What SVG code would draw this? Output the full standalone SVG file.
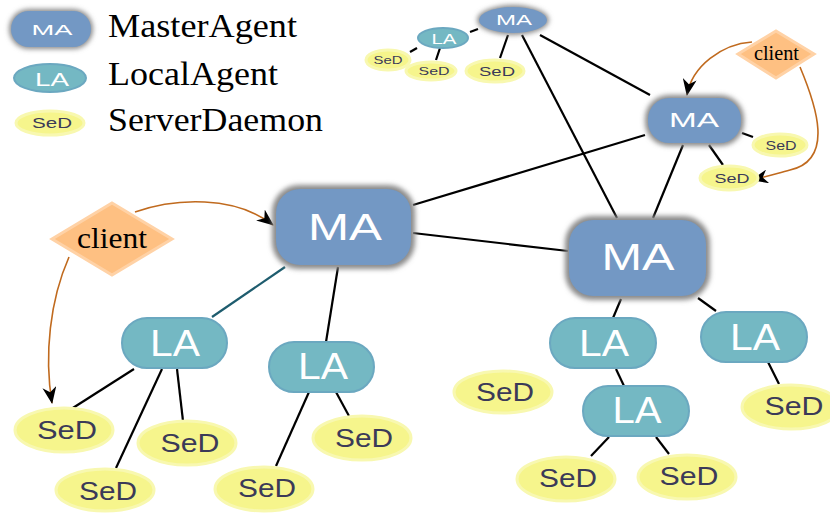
<svg xmlns="http://www.w3.org/2000/svg" width="830" height="513" viewBox="0 0 830 513">
<style>
.ma{fill:#7398C4;}
.mash{fill:#8a8a8a;filter:url(#blur);}
.la{fill:#74B8C3;stroke:#6BA8C0;stroke-width:2;}
.sed{fill:#F6F58C;stroke:#F8F8B0;stroke-width:3;}
.cl{fill:#FEC082;stroke:#FFD2A6;stroke-width:3;}
.tw{font-family:"Liberation Sans","DejaVu Sans",sans-serif;fill:#FFFFFF;text-anchor:middle;}
.ts{font-family:"Liberation Sans","DejaVu Sans",sans-serif;fill:#3B3A58;text-anchor:middle;}
.tl{font-family:"Liberation Serif","Times New Roman",serif;fill:#000;}
.e{stroke:#000;stroke-width:2.2;fill:none;}
.c{stroke:#C06A1E;stroke-width:1.6;fill:none;marker-end:url(#arr);}
</style>
<defs>
<filter id="blur" x="-20%" y="-20%" width="140%" height="140%"><feGaussianBlur stdDeviation="2.5"/></filter>
<marker id="arr" markerUnits="userSpaceOnUse" markerWidth="18" markerHeight="14" refX="16" refY="7" orient="auto"><path d="M0,0 L17,7 L0,14 L5,7 Z" fill="#000"/></marker>
</defs>
<rect width="830" height="513" fill="#fff"/>

<g id="legend">
<rect class="mash" x="9" y="9" width="84" height="40" rx="20"/>
<rect class="ma" x="11" y="11" width="80" height="36" rx="18"/>
<text class="tw" x="52" y="35" font-size="15" textLength="41" lengthAdjust="spacingAndGlyphs">MA</text>
<ellipse class="la" cx="50" cy="78" rx="36" ry="14"/>
<text class="tw" x="52" y="86" font-size="18" textLength="34" lengthAdjust="spacingAndGlyphs">LA</text>
<ellipse class="sed" cx="50" cy="123" rx="34" ry="12"/>
<text class="ts" x="52" y="128" font-size="14" textLength="40" lengthAdjust="spacingAndGlyphs">SeD</text>
<text class="tl" x="108" y="37" font-size="33" textLength="189" lengthAdjust="spacingAndGlyphs">MasterAgent</text>
<text class="tl" x="108" y="85" font-size="33" textLength="170" lengthAdjust="spacingAndGlyphs">LocalAgent</text>
<text class="tl" x="108" y="131" font-size="33" textLength="215" lengthAdjust="spacingAndGlyphs">ServerDaemon</text>
</g>

<g id="connectors">
<line class="e" x1="470" y1="32" x2="478" y2="29"/>
<line class="e" x1="410" y1="52" x2="417" y2="48"/>
<line class="e" x1="440" y1="48" x2="436" y2="60"/>
<line class="e" x1="508" y1="35" x2="500" y2="58"/>
<line class="e" x1="522" y1="35" x2="617" y2="218"/>
<line class="e" x1="540" y1="35" x2="650" y2="95"/>
<line class="e" x1="742" y1="133" x2="753" y2="137"/>
<line class="e" x1="709" y1="145" x2="723" y2="165"/>
<line class="e" x1="683" y1="145" x2="653" y2="218"/>
<line class="e" x1="645" y1="135" x2="413" y2="205"/>
<line class="e" x1="413" y1="233" x2="568" y2="251"/>
<line x1="285" y1="267" x2="212" y2="317" stroke="#1E5C6E" stroke-width="2.2"/>
<line class="e" x1="338" y1="267" x2="326" y2="342"/>
<line class="e" x1="134" y1="369" x2="65" y2="413"/>
<line class="e" x1="162" y1="369" x2="116" y2="468"/>
<line class="e" x1="177" y1="369" x2="183" y2="421"/>
<line class="e" x1="309" y1="392" x2="276" y2="466"/>
<line class="e" x1="336" y1="392" x2="349" y2="416"/>
<line class="e" x1="621" y1="299" x2="613" y2="318"/>
<line class="e" x1="698" y1="298" x2="716" y2="311"/>
<line class="e" x1="616" y1="369" x2="624" y2="386"/>
<line class="e" x1="609" y1="437" x2="591" y2="456"/>
<line class="e" x1="656" y1="437" x2="669" y2="454"/>
<line class="e" x1="768" y1="362" x2="779" y2="384"/>
<path class="c" d="M752,42 C722,44 692,66 687,95"/>
<path class="c" d="M800,67 C816,105 835,160 790,170 C775,174 765,177 752,180"/>
<path class="c" d="M135,212 C175,198 235,195 273,225"/>
<path class="c" d="M69,257 C50,300 44,355 52,403"/>
</g>

<g id="ma-small">
<ellipse class="mash" cx="513" cy="20" rx="36" ry="15"/>
<ellipse class="ma" cx="513" cy="20" rx="34" ry="13"/>
<text class="tw" x="514" y="25" font-size="14" textLength="36" lengthAdjust="spacingAndGlyphs">MA</text>
</g>
<g id="la-small">
<ellipse class="la" cx="443" cy="38" rx="25" ry="10" stroke-width="1"/>
<text class="tw" x="444" y="44" font-size="15" textLength="25" lengthAdjust="spacingAndGlyphs">LA</text>
</g>
<g id="sed-s1"><ellipse class="sed" cx="388" cy="60" rx="22" ry="10" stroke-width="1.5"/><text class="ts" x="388" y="64" font-size="11" textLength="29" lengthAdjust="spacingAndGlyphs">SeD</text></g>
<g id="sed-s2"><ellipse class="sed" cx="431" cy="71" rx="25" ry="9" stroke-width="1.5"/><text class="ts" x="434" y="75" font-size="11" textLength="31" lengthAdjust="spacingAndGlyphs">SeD</text></g>
<g id="sed-s3"><ellipse class="sed" cx="495" cy="71" rx="29" ry="11" stroke-width="1.5"/><text class="ts" x="497" y="76" font-size="12" textLength="36" lengthAdjust="spacingAndGlyphs">SeD</text></g>

<g id="ma-topright">
<rect class="mash" x="645" y="95" width="99" height="51" rx="24"/>
<rect class="ma" x="648" y="98" width="93" height="45" rx="21"/>
<text class="tw" x="694" y="127" font-size="21" textLength="50" lengthAdjust="spacingAndGlyphs">MA</text>
</g>
<g id="sed-tr1"><ellipse class="sed" cx="780" cy="145" rx="27" ry="11" stroke-width="1.5"/><text class="ts" x="781" y="150" font-size="12" textLength="31" lengthAdjust="spacingAndGlyphs">SeD</text></g>
<g id="sed-tr2"><ellipse class="sed" cx="729" cy="178" rx="29" ry="12" stroke-width="1.5"/><text class="ts" x="732" y="183" font-size="13" textLength="35" lengthAdjust="spacingAndGlyphs">SeD</text></g>
<g id="client-tr">
<polygon class="cl" points="776,31 814,54 776,78 738,54"/>
<text class="tl" x="754" y="60" font-size="20" textLength="45" lengthAdjust="spacingAndGlyphs">client</text>
</g>

<g id="ma-left">
<rect class="mash" x="272" y="185" width="143" height="84" rx="27"/>
<rect class="ma" x="276" y="189" width="135" height="76" rx="24"/>
<text class="tw" x="345" y="240" font-size="37" textLength="74" lengthAdjust="spacingAndGlyphs">MA</text>
</g>
<g id="ma-right">
<rect class="mash" x="565" y="216" width="145" height="84" rx="27"/>
<rect class="ma" x="569" y="220" width="137" height="76" rx="24"/>
<text class="tw" x="638" y="270" font-size="37" textLength="73" lengthAdjust="spacingAndGlyphs">MA</text>
</g>

<g id="client-left">
<polygon class="cl" points="112,203 172,239 112,275 52,239"/>
<text class="tl" x="77" y="248" font-size="29" textLength="70" lengthAdjust="spacingAndGlyphs">client</text>
</g>

<g id="la1"><rect class="la" x="122" y="318" width="105" height="50" rx="25"/><text class="tw" x="175" y="356" font-size="36" textLength="50" lengthAdjust="spacingAndGlyphs">LA</text></g>
<g id="la2"><rect class="la" x="269" y="342" width="105" height="50" rx="25"/><text class="tw" x="323" y="379" font-size="36" textLength="50" lengthAdjust="spacingAndGlyphs">LA</text></g>
<g id="la3"><rect class="la" x="550" y="318" width="106" height="50" rx="25"/><text class="tw" x="604" y="356" font-size="36" textLength="50" lengthAdjust="spacingAndGlyphs">LA</text></g>
<g id="la4"><rect class="la" x="583" y="386" width="106" height="50" rx="25"/><text class="tw" x="637" y="423" font-size="36" textLength="49" lengthAdjust="spacingAndGlyphs">LA</text></g>
<g id="la5"><rect class="la" x="701" y="312" width="106" height="50" rx="25"/><text class="tw" x="755" y="350" font-size="36" textLength="50" lengthAdjust="spacingAndGlyphs">LA</text></g>

<g id="sed1"><ellipse class="sed" cx="64" cy="430" rx="49" ry="22"/><text class="ts" x="67" y="439" font-size="25" textLength="60" lengthAdjust="spacingAndGlyphs">SeD</text></g>
<g id="sed2"><ellipse class="sed" cx="187" cy="443" rx="49" ry="22"/><text class="ts" x="190" y="452" font-size="25" textLength="59" lengthAdjust="spacingAndGlyphs">SeD</text></g>
<g id="sed3"><ellipse class="sed" cx="105" cy="490" rx="49" ry="21"/><text class="ts" x="108" y="500" font-size="25" textLength="58" lengthAdjust="spacingAndGlyphs">SeD</text></g>
<g id="sed4"><ellipse class="sed" cx="264" cy="489" rx="49" ry="22"/><text class="ts" x="267" y="497" font-size="25" textLength="58" lengthAdjust="spacingAndGlyphs">SeD</text></g>
<g id="sed5"><ellipse class="sed" cx="362" cy="438" rx="49" ry="22"/><text class="ts" x="364" y="447" font-size="25" textLength="58" lengthAdjust="spacingAndGlyphs">SeD</text></g>
<g id="sed6"><ellipse class="sed" cx="503" cy="392" rx="49" ry="21"/><text class="ts" x="505" y="401" font-size="25" textLength="58" lengthAdjust="spacingAndGlyphs">SeD</text></g>
<g id="sed7"><ellipse class="sed" cx="566" cy="479" rx="49" ry="22"/><text class="ts" x="568" y="487" font-size="25" textLength="58" lengthAdjust="spacingAndGlyphs">SeD</text></g>
<g id="sed8"><ellipse class="sed" cx="687" cy="477" rx="49" ry="22"/><text class="ts" x="689" y="485" font-size="25" textLength="59" lengthAdjust="spacingAndGlyphs">SeD</text></g>
<g id="sed9"><ellipse class="sed" cx="791" cy="407" rx="49" ry="22"/><text class="ts" x="794" y="415" font-size="25" textLength="59" lengthAdjust="spacingAndGlyphs">SeD</text></g>
</svg>
